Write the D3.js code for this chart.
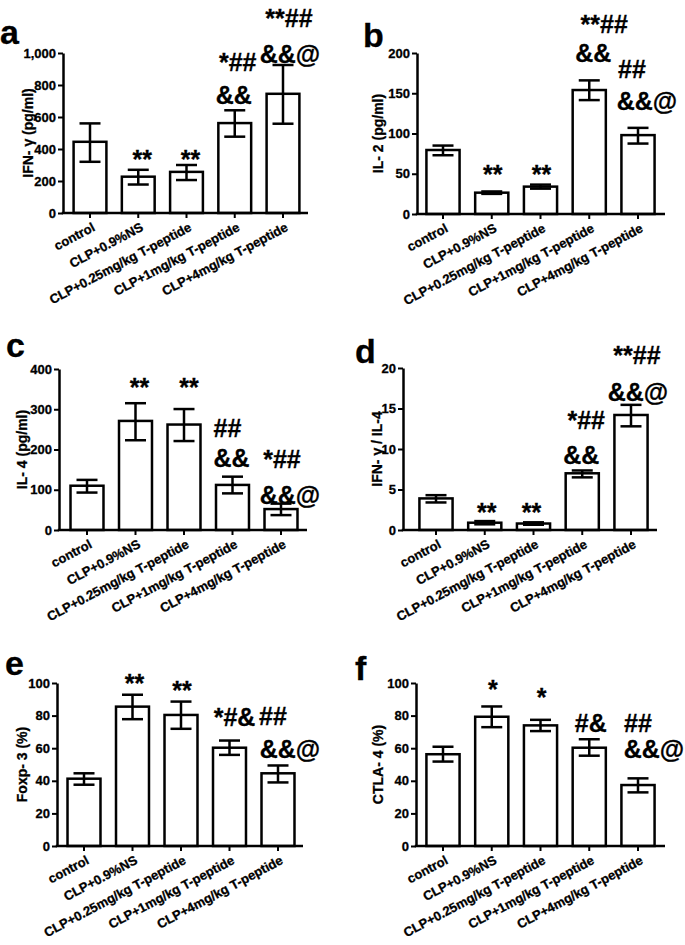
<!DOCTYPE html>
<html><head><meta charset="utf-8">
<script src="https://cdn.jsdelivr.net/npm/d3@7"></script>
<style>
body{margin:0;background:#fff}
svg{display:block}
text{font-family:"Liberation Sans",Arial,Helvetica,sans-serif;font-weight:bold;fill:#000;stroke:#000;stroke-width:0.3px}
</style></head>
<body><svg id="chart" width="685" height="945"></svg>
<script>
// ---------- data ----------
const categories = ["control","CLP+0.9%NS","CLP+0.25mg/kg T-peptide","CLP+1mg/kg T-peptide","CLP+4mg/kg T-peptide"];
const panelLetters = ["a","b","c","d","e","f"];
const yLabels = ["IFN- \u03b3 (pg/ml)","IL- 2 (pg/ml)","IL- 4 (pg/ml)","IFN- \u03b3 / IL-4","Foxp- 3 (%)","CTLA- 4 (%)"];

const ticksA = [0,200,400,600,800,1000];
const ticksB = [0,50,100,150,200];
const ticksC = [0,100,200,300,400];
const ticksD = [0,5,10,15,20];
const ticksE = [0,20,40,60,80,100];
const ticksF = [0,20,40,60,80,100];

const meanA = [445,227,257,562,745];
const hiA   = [560,270,300,642,925];
const loA   = [320,178,206,477,558];

const meanB = [79.5,26.5,34,154,98];
const hiB   = [85,28,36.5,166,107];
const loB   = [73,25,31.5,141.5,87.5];

const meanC = [110,271,262,112,52];
const hiC   = [124.5,315,300.5,132.5,65.5];
const loC   = [93,223,221,91,37];

const meanD = [3.9,0.9,0.8,7.0,14.2];
const hiD   = [4.3,1.1,0.95,7.35,15.45];
const loD   = [3.4,0.7,0.65,6.5,12.8];

const meanE = [41.3,85.5,80.4,60.3,44.6];
const hiE   = [44.6,92.8,88.6,64.7,49.4];
const loE   = [37.6,77.8,71.9,55.9,39];

const meanF = [56.3,79.3,74,60.3,37.4];
const hiF   = [60.9,85.6,77.4,65.5,41.5];
const loF   = [51.8,72.9,70.5,55.4,32.9];

// significance marks (text only)
const marksA = [{bar:1,lines:["**"]},{bar:2,lines:["**"]},{bar:3,lines:["*##","&&"]},{bar:4,lines:["**##","&&@"]}];
const marksB = [{bar:1,lines:["**"]},{bar:2,lines:["**"]},{bar:3,lines:["**##","&&"]},{bar:4,lines:["##","&&@"]}];
const marksC = [{bar:1,lines:["**"]},{bar:2,lines:["**"]},{bar:3,lines:["##","&&"]},{bar:4,lines:["*##","&&@"]}];
const marksD = [{bar:1,lines:["**"]},{bar:2,lines:["**"]},{bar:3,lines:["*##","&&"]},{bar:4,lines:["**##","&&@"]}];
const marksE = [{bar:1,lines:["**"]},{bar:2,lines:["**"]},{bar:3,lines:["*#&"]},{bar:4,lines:["##","&&@"]}];
const marksF = [{bar:1,lines:["*"]},{bar:2,lines:["*"]},{bar:3,lines:["#&"]},{bar:4,lines:["##","&&@"]}];

// ---------- layout (pixels) ----------
const layout = [
  {axisX:63, yTop:53, yZero:213, xEnd:308, c0:90, c4:283, letterX:0, letterY:44, ylabX:28},
  {axisX:417,yTop:53, yZero:214, xEnd:665, c0:443,c4:638, letterX:363,letterY:47, ylabX:378},
  {axisX:59, yTop:369,yZero:530, xEnd:307, c0:87, c4:281, letterX:6, letterY:357,ylabX:22},
  {axisX:403,yTop:368,yZero:530, xEnd:657, c0:436,c4:631, letterX:355,letterY:363,ylabX:377},
  {axisX:57, yTop:683,yZero:846, xEnd:303, c0:84, c4:278, letterX:5, letterY:675,ylabX:22},
  {axisX:416,yTop:683,yZero:846, xEnd:665, c0:443,c4:638, letterX:355,letterY:680,ylabX:378}
];
// per-line offsets of the significance marks: dx from bar centre, dy of baseline from error-bar top
const markOffsets = [
  [[{dx:4,dy:-2}],[{dx:4,dy:3}],[{dx:3,dy:-39},{dx:-1,dy:-6}],[{dx:6,dy:-38},{dx:7,dy:-2}]],
  [[{dx:1,dy:-8}],[{dx:1,dy:-2}],[{dx:15,dy:-47},{dx:4,dy:-18}],[{dx:-6,dy:-50},{dx:9,dy:-18}]],
  [[{dx:4,dy:-7}],[{dx:5,dy:-13}],[{dx:-5,dy:-40},{dx:-1,dy:-10}],[{dx:1,dy:-36},{dx:9,dy:0}]],
  [[{dx:2,dy:0}],[{dx:-2,dy:-1}],[{dx:4,dy:-41},{dx:-1,dy:-6}],[{dx:6,dy:-41},{dx:7,dy:-4}]],
  [[{dx:2,dy:-3}],[{dx:1,dy:-3}],[{dx:5,dy:-15}],[{dx:-5,dy:-40},{dx:12,dy:-7}]],
  [[{dx:1,dy:-8}],[{dx:1,dy:-14}],[{dx:1.5,dy:-7}],[{dx:0,dy:-46},{dx:16,dy:-20}]]
];

const panels = [
  {ticks:ticksA, mean:meanA, hi:hiA, lo:loA, marks:marksA, fmt:d3.format(",")},
  {ticks:ticksB, mean:meanB, hi:hiB, lo:loB, marks:marksB, fmt:d3.format("d")},
  {ticks:ticksC, mean:meanC, hi:hiC, lo:loC, marks:marksC, fmt:d3.format("d")},
  {ticks:ticksD, mean:meanD, hi:hiD, lo:loD, marks:marksD, fmt:d3.format("d")},
  {ticks:ticksE, mean:meanE, hi:hiE, lo:loE, marks:marksE, fmt:d3.format("d")},
  {ticks:ticksF, mean:meanF, hi:hiF, lo:loF, marks:marksF, fmt:d3.format("d")}
];

const svg = d3.select("#chart");
const LW = 2.5;

panels.forEach((p, i) => {
  const L = layout[i];
  const g = svg.append("g");
  const step = (L.c4 - L.c0) / (categories.length - 1);
  const x = d3.scaleBand().domain(categories)
    .range([L.c0 - step/2, L.c4 + step/2]).paddingInner(0.32).paddingOuter(0.16);
  const y = d3.scaleLinear().domain([0, d3.max(p.ticks)]).range([L.yZero, L.yTop]);

  // bars
  g.selectAll("rect.bar").data(categories).join("rect")
    .attr("x", d => x(d)).attr("width", x.bandwidth())
    .attr("y", (d,j) => y(p.mean[j])).attr("height", (d,j) => L.yZero - y(p.mean[j]))
    .attr("fill","#fff").attr("stroke","#000").attr("stroke-width",LW);

  // error bars
  const cx = d => x(d) + x.bandwidth()/2;
  const eb = g.append("g").attr("stroke","#000").attr("stroke-width",LW);
  categories.forEach((d,j) => {
    eb.append("line").attr("x1",cx(d)).attr("x2",cx(d)).attr("y1",y(p.lo[j])).attr("y2",y(p.hi[j]));
    eb.append("line").attr("x1",cx(d)-10.5).attr("x2",cx(d)+10.5).attr("y1",y(p.hi[j])).attr("y2",y(p.hi[j]));
    eb.append("line").attr("x1",cx(d)-10.5).attr("x2",cx(d)+10.5).attr("y1",y(p.lo[j])).attr("y2",y(p.lo[j]));
  });

  // y axis
  const ya = g.append("g").attr("transform",`translate(${L.axisX},0)`)
    .call(d3.axisLeft(y).tickValues(p.ticks).tickFormat(p.fmt).tickSize(5).tickSizeOuter(0).tickPadding(2));
  ya.attr("font-family",null).attr("font-size",null);
  ya.select(".domain").attr("stroke-width",LW);
  ya.selectAll(".tick line").attr("stroke-width",2);
  ya.selectAll(".tick text").style("font-size","13px");

  // x axis
  const xa = g.append("g").attr("transform",`translate(0,${L.yZero})`)
    .call(d3.axisBottom(x).tickSize(5).tickSizeOuter(0));
  xa.attr("font-family",null).attr("font-size",null);
  xa.select(".domain").remove();
  xa.selectAll(".tick line").attr("stroke-width",2);
  xa.selectAll(".tick text").attr("x",0).attr("y",0).attr("dy",0)
    .attr("transform","translate(6,17) rotate(-28)").style("text-anchor","end").style("font-size","13px");
  g.append("line").attr("x1",L.axisX - 1.25).attr("x2",L.xEnd).attr("y1",L.yZero).attr("y2",L.yZero)
    .attr("stroke","#000").attr("stroke-width",LW);

  // y label
  g.append("text").attr("transform",`translate(${L.ylabX},${(L.yTop+L.yZero)/2}) rotate(-90)`)
    .attr("text-anchor","middle").attr("dy","0.35em").style("font-size","14px").text(yLabels[i]);

  // panel letter
  g.append("text").attr("x",L.letterX).attr("y",L.letterY).style("font-size","34px").text(panelLetters[i]);

  // significance marks
  p.marks.forEach((m, k) => {
    const d = categories[m.bar];
    const top = y(p.hi[m.bar]);
    m.lines.forEach((t, li) => {
      const o = markOffsets[i][k][li];
      g.append("text").attr("x", cx(d) + o.dx).attr("y", top + o.dy)
        .attr("text-anchor","middle").style("font-size","25px").text(t);
    });
  });
});
</script></body></html>
